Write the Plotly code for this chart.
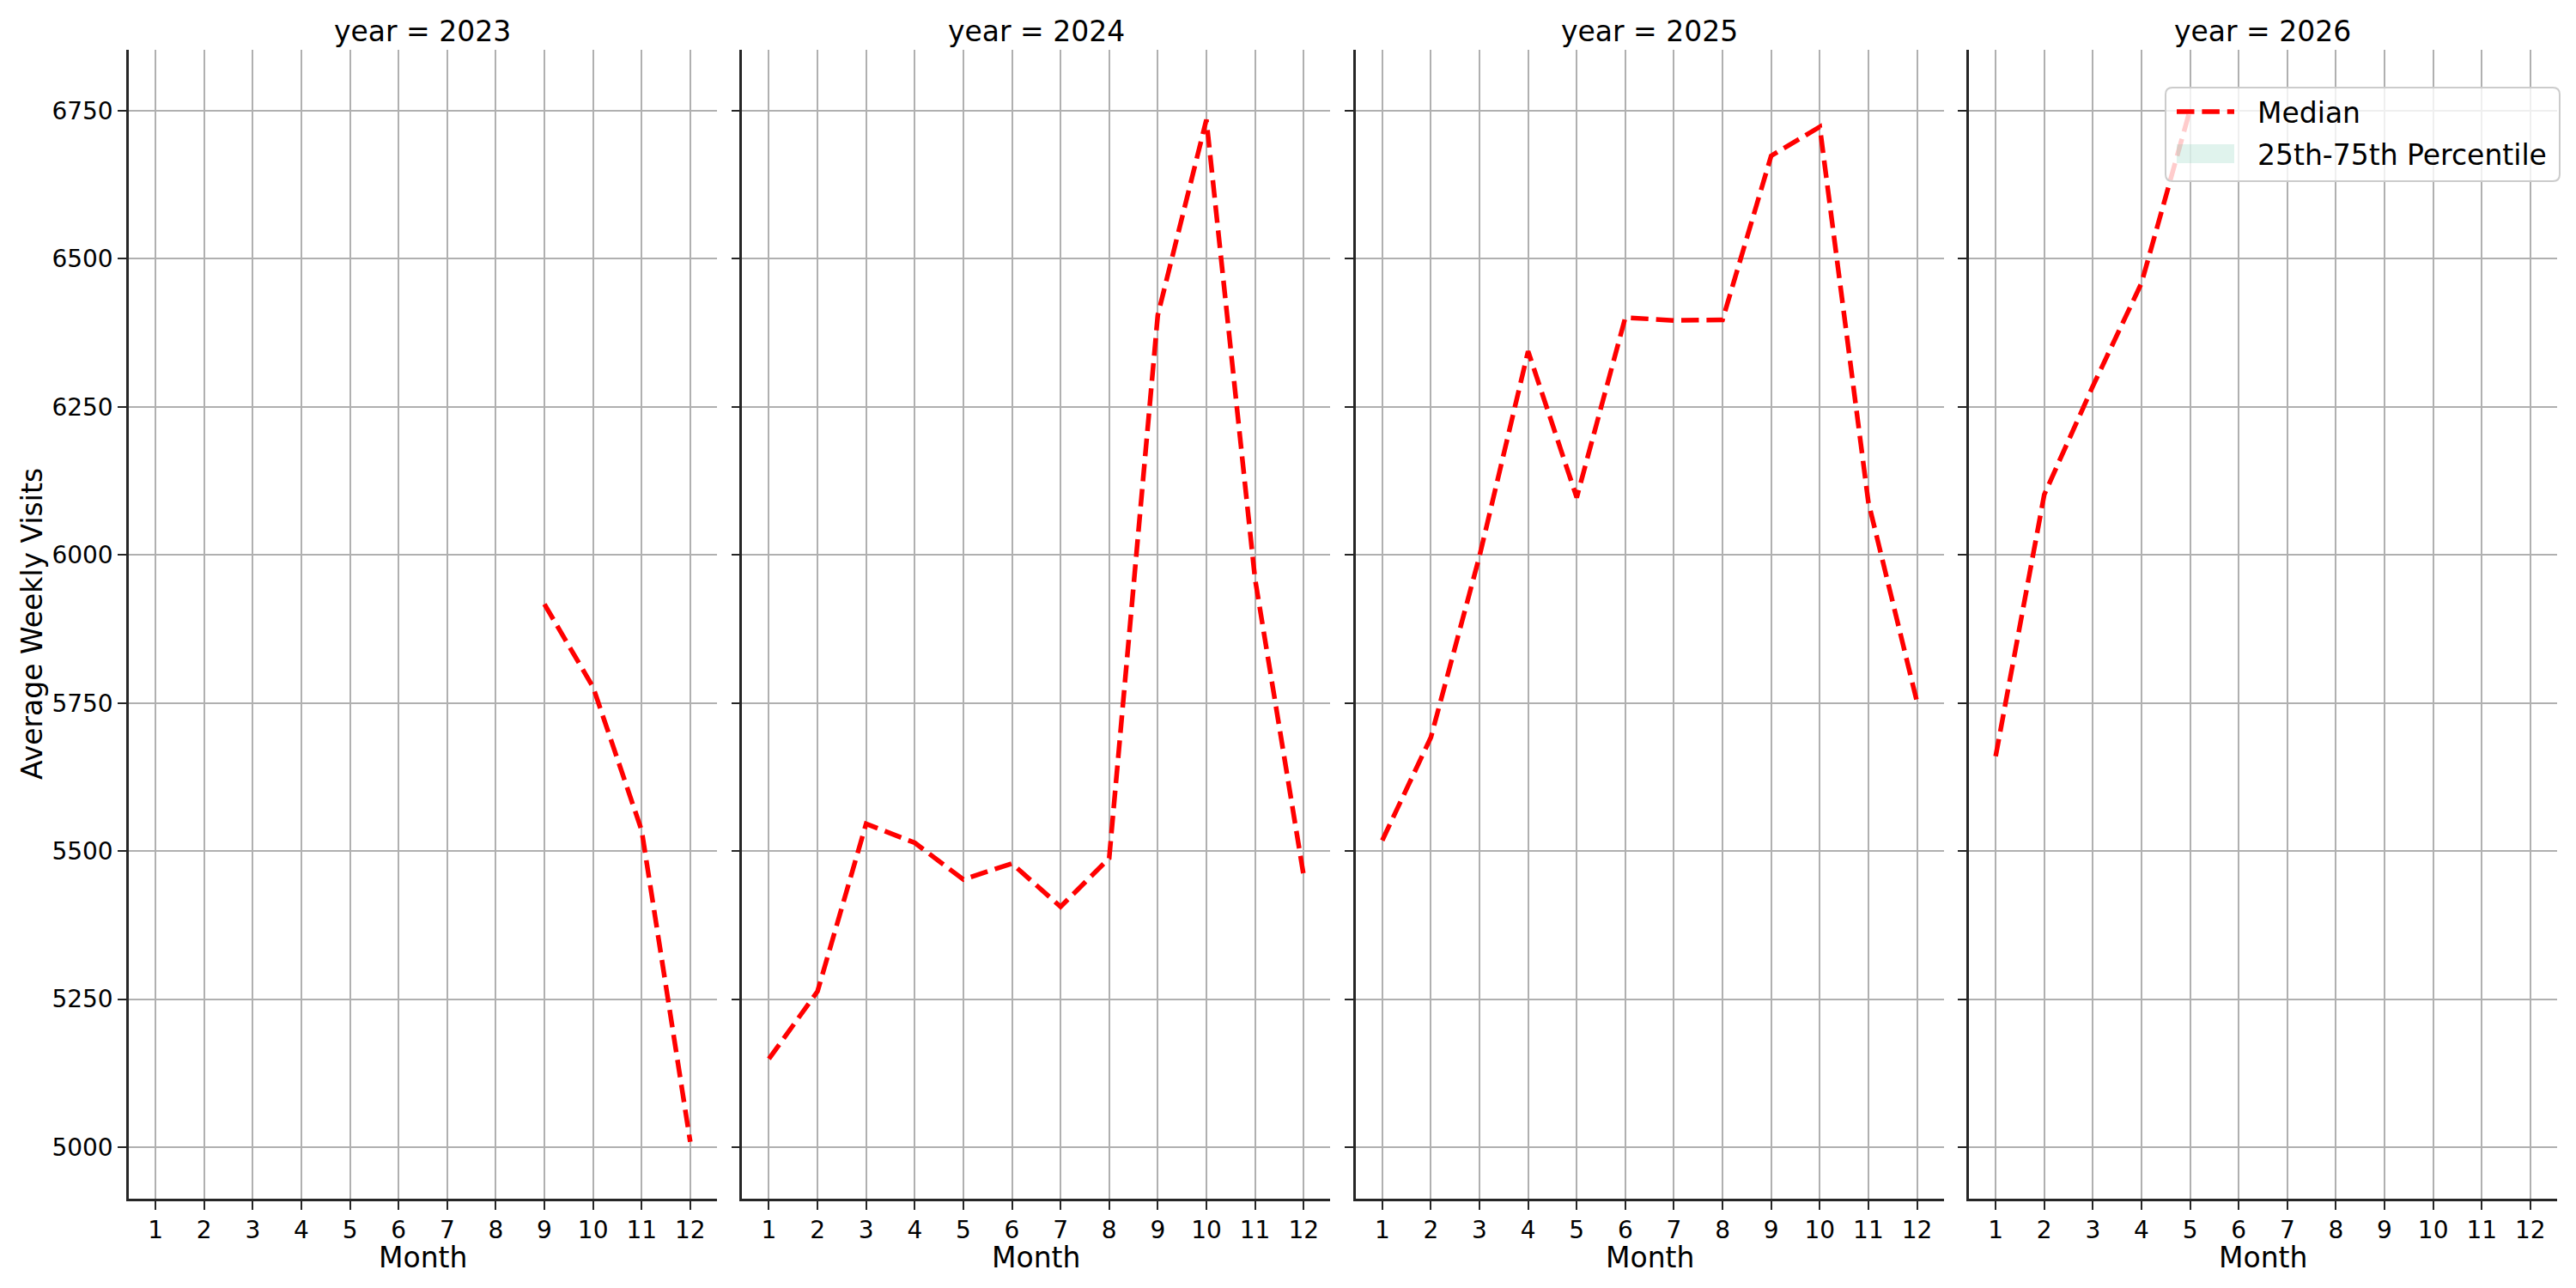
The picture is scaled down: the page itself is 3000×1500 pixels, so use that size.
import plotly.graph_objects as go

# ---------------- data ----------------
years = [2023, 2024, 2025, 2026]
month_ticks = [1, 2, 3, 4, 5, 6, 7, 8, 9, 10, 11, 12]

months_2023 = [9, 10, 11, 12]
median_2023 = [5917, 5777, 5535, 5009]

months_2024 = [1, 2, 3, 4, 5, 6, 7, 8, 9, 10, 11, 12]
median_2024 = [5149, 5263, 5546, 5514, 5452, 5479, 5406, 5488, 6405, 6735, 5960, 5459]

months_2025 = [1, 2, 3, 4, 5, 6, 7, 8, 9, 10, 11, 12]
median_2025 = [5518, 5692, 5998, 6344, 6097, 6401, 6396, 6397, 6674, 6723, 6089, 5752]

months_2026 = [1, 2, 3, 4, 5]
median_2026 = [5660, 6102, 6285, 6459, 6752]

y_ticks = [5000, 5250, 5500, 5750, 6000, 6250, 6500, 6750]

legend_labels = ["Median", "25th-75th Percentile"]

series = [
    (months_2023, median_2023),
    (months_2024, median_2024),
    (months_2025, median_2025),
    (months_2026, median_2026),
]

# ---------------- layout geometry ----------------
W, H = 3000, 1500
FONT = "DejaVu Sans"
SPINE = "#262626"
GRID = "#b0b0b0"
RED_DASH = "20.5px,8.9px"
BAND = "rgba(102,194,165,0.2)"

panel_left0 = 150
panel_step = 714.33
panel_w = 685
plot_top = 58
plot_bottom = 1396

fig = go.Figure()
layout_axes = {}
annotations = []
shapes = []

for i, (yr, (mx, my)) in enumerate(zip(years, series)):
    n = i + 1
    xa = "x" if n == 1 else f"x{n}"
    ya = "y" if n == 1 else f"y{n}"
    fig.add_trace(go.Scatter(
        x=mx, y=my, mode="lines",
        line=dict(color="red", width=5.5, dash=RED_DASH),
        name="Median", showlegend=False,
        xaxis=xa, yaxis=ya,
    ))
    left = panel_left0 + i * panel_step
    right = left + panel_w
    dom_x = [left / W, right / W]
    dom_y = [1 - plot_bottom / H, 1 - plot_top / H]
    xkey = "xaxis" if n == 1 else f"xaxis{n}"
    ykey = "yaxis" if n == 1 else f"yaxis{n}"
    layout_axes[xkey] = dict(
        domain=dom_x, anchor=ya, range=[0.45, 12.55],
        tickmode="array", tickvals=month_ticks,
        ticktext=[str(m) for m in month_ticks],
        showgrid=True, gridcolor=GRID, gridwidth=2.2,
        showline=True, linecolor=SPINE, linewidth=2.5,
        ticks="outside", ticklen=10, tickwidth=2.2, tickcolor=SPINE,
        tickfont=dict(family=FONT, size=28, color="black"),
        zeroline=False, mirror=False,
    )
    layout_axes[ykey] = dict(
        domain=dom_y, anchor=xa, range=[4913, 6853],
        tickmode="array", tickvals=y_ticks,
        ticktext=[str(v) for v in y_ticks],
        showticklabels=(n == 1),
        showgrid=True, gridcolor=GRID, gridwidth=2.2,
        showline=True, linecolor=SPINE, linewidth=2.5,
        ticks="outside", ticklen=10, tickwidth=2.2, tickcolor=SPINE,
        tickfont=dict(family=FONT, size=28, color="black"),
        zeroline=False, mirror=False,
    )
    cx = (left + right) / 2 / W
    annotations.append(dict(
        text=f"year = {yr}", x=cx, y=1 - 36 / H, xref="paper", yref="paper",
        xanchor="center", yanchor="middle", showarrow=False,
        font=dict(family=FONT, size=33, color="black"),
    ))
    annotations.append(dict(
        text="Month", x=cx, y=1 - 1464 / H, xref="paper", yref="paper",
        xanchor="center", yanchor="middle", showarrow=False,
        font=dict(family=FONT, size=33, color="black"),
    ))

annotations.append(dict(
    text="Average Weekly Visits", x=37 / W, y=(1 - (plot_top + plot_bottom) / 2 / H),
    xref="paper", yref="paper", xanchor="center", yanchor="middle",
    textangle=-90, showarrow=False,
    font=dict(family=FONT, size=33, color="black"),
))

# ---------------- legend (drawn in the upper right of the last panel) ----------------
def px(x):
    return x / W

def py(y):
    return 1 - y / H

lx0, lx1, ly0, ly1, r = 2522, 2981, 102, 211, 8
path = (
    f"M {px(lx0 + r)},{py(ly0)} L {px(lx1 - r)},{py(ly0)} "
    f"Q {px(lx1)},{py(ly0)} {px(lx1)},{py(ly0 + r)} "
    f"L {px(lx1)},{py(ly1 - r)} Q {px(lx1)},{py(ly1)} {px(lx1 - r)},{py(ly1)} "
    f"L {px(lx0 + r)},{py(ly1)} Q {px(lx0)},{py(ly1)} {px(lx0)},{py(ly1 - r)} "
    f"L {px(lx0)},{py(ly0 + r)} Q {px(lx0)},{py(ly0)} {px(lx0 + r)},{py(ly0)} Z"
)
shapes.append(dict(
    type="path", xref="paper", yref="paper", path=path,
    fillcolor="rgba(255,255,255,0.8)", line=dict(color="#cccccc", width=2),
    layer="above",
))
shapes.append(dict(
    type="line", xref="paper", yref="paper",
    x0=px(2535), x1=px(2602), y0=py(130), y1=py(130),
    line=dict(color="red", width=5.5, dash=RED_DASH), layer="above",
))
shapes.append(dict(
    type="rect", xref="paper", yref="paper",
    x0=px(2535), x1=px(2602), y0=py(168), y1=py(190),
    fillcolor=BAND, line=dict(width=0), layer="above",
))
for lab, yc in zip(legend_labels, [131, 180]):
    annotations.append(dict(
        text=lab, x=px(2627), y=py(yc), xref="paper", yref="paper",
        xanchor="left", yanchor="middle", showarrow=False,
        font=dict(family=FONT, size=33, color="black"),
    ))

fig.update_layout(
    width=W, height=H,
    margin=dict(l=0, r=0, t=0, b=0),
    paper_bgcolor="white", plot_bgcolor="white",
    font=dict(family=FONT, size=28, color="black"),
    annotations=annotations,
    shapes=shapes,
    showlegend=False,
    **layout_axes,
)

fig.write_html(
    "out.html",
    config={"displayModeBar": False},
    post_script="document.body.style.margin='0';",
)
